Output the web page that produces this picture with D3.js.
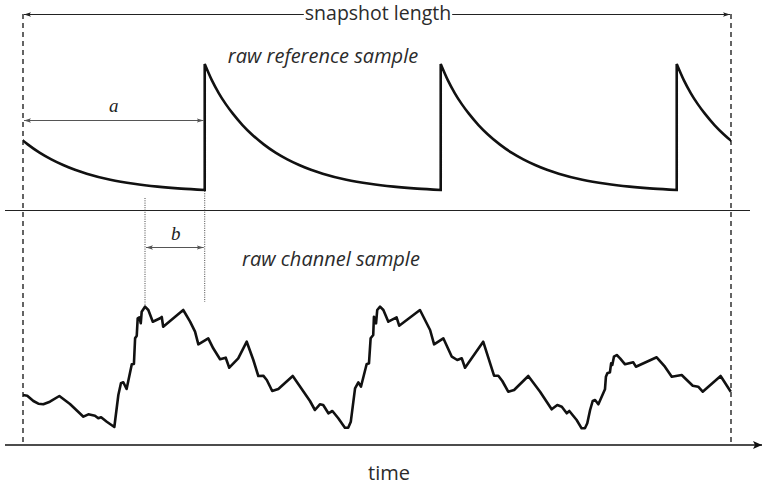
<!DOCTYPE html>
<html>
<head>
<meta charset="utf-8">
<script src="https://cdn.jsdelivr.net/npm/d3@7"></script>
<style>
  html, body { margin: 0; padding: 0; background: #fff; }
  svg { display: block; }
  .lbl { font-family: "Open Sans", sans-serif; fill: #2b2b2b; }
  .math { font-family: "Liberation Serif", "DejaVu Serif", serif; font-style: italic; fill: #222; }
</style>
</head>
<body>
<svg id="chart" width="763" height="487"></svg>
<script>
// Snapshot covers three reference periods, time in arbitrary units 0..300
const snapshot = [0, 300];

// Times at which the reference sample resets to its peak
const jumpTimes = [-23, 77, 177, 277];

// Shape of one reference decay: [time since reset, level]
const refDecay = [
  [0, 1.0], [3, 0.875], [6, 0.773], [9, 0.687], [12, 0.613], [16, 0.527],
  [20, 0.454], [25, 0.377], [30, 0.313], [35, 0.261], [40, 0.217], [45, 0.18],
  [50, 0.15], [60, 0.103], [70, 0.0714], [80, 0.0493], [90, 0.034], [100, 0.0235]
];

// Raw channel sample: [time, level]
const channelTime = [
  0, 1.8, 4.4, 6.5, 8.6, 11.4, 15.4, 19.9, 25.6, 27.7, 30.5, 31.9, 33.1, 35.5, 38.7,
  40.4, 41.5, 42.5, 43.9, 46.1, 47.0, 47.5, 48.2, 48.6, 49.3, 49.9, 50.3, 51.7, 53.1,
  55.0, 58.1, 58.8, 59.4, 67.9, 70.8, 72.9, 74.3, 78.5, 80.6, 83.5, 85.9, 87.4, 91.2,
  94.8, 97.6, 99.7, 101.8, 103.3, 105.6, 108.2, 114.3, 118.1, 121.6, 123.7, 125.8,
  127.2, 129.4, 131.1, 133.6, 136.4, 137.8, 138.9, 140.7, 142.1, 143.2, 145.6, 146.6,
  147.3, 148.4, 148.7, 149.6, 150.1, 151.3, 152.7, 154.8, 158.3, 159.4, 168.2, 172.5,
  174.2, 178.1, 181.7, 184.0, 185.9, 187.3, 195.0, 199.6, 201.4, 203.1, 205.6, 208.1,
  214.1, 219.1, 224.0, 226.4, 228.3, 230.4, 231.5, 234.6, 236.7, 238.1, 239.1, 240.3,
  241.4, 242.4, 243.8, 246.6, 247.0, 247.6, 248.7, 249.2, 249.7, 250.4, 251.6, 253.0,
  255.1, 258.6, 259.7, 268.5, 272.0, 274.9, 279.1, 283.8, 286.1, 288.0, 295.6, 299.9
];
const channelLevel = [
  37, 36.3, 31, 28.3, 27.7, 30.3, 36, 28, 15.3, 17.7, 16.3, 13.7, 14.7, 10.3, 5,
  37, 48.7, 49.7, 43, 67.7, 68, 93.7, 96.3, 113.7, 114.7, 108.7, 120.3, 125.3, 122,
  110.3, 113.7, 115, 105.3, 122, 110.3, 100.3, 87.7, 93.7, 83.7, 72.7, 74.3, 64.3, 73.7,
  90.3, 72, 56, 56.3, 52, 41, 43, 56, 43, 31, 22, 27.7,
  27, 18.7, 21, 13.7, 4.3, 4.3, 10.3, 43.7, 49.7, 45.3, 67.7, 68.7,
  93.7, 97, 115.3, 108.7, 122, 125.3, 122, 110.3, 114.7, 106.3, 122, 102,
  87.7, 93.7, 75.3, 72, 73.7, 64.3, 90.3, 56.3, 56.3, 51, 40.3, 42,
  56, 40.3, 22.7, 27, 25.3, 18.7, 21, 12, 3.7, 3.7, 8.7, 22,
  31, 32, 27.7, 42.7, 55.3, 58.7, 59.7, 68.7, 67, 75.3, 77, 73.7,
  67.7, 69.7, 65.3, 74.7, 65.3, 55.3, 57, 46.3, 45.3, 40.3, 56, 40.3
];

const labels = {
  length: "snapshot length",
  reference: "raw reference sample",
  channel: "raw channel sample",
  axis: "time",
  lagA: "a",
  lagB: "b"
};

const channel = channelTime.map((t, i) => [t, channelLevel[i]]);

const svg = d3.select("#chart");

const x = d3.scaleLinear().domain(snapshot).range([23, 731]);
const yRef = d3.scaleLinear().domain([0, 1]).range([193, 64]);
const yCh = d3.scaleLinear().domain([0, 130]).range([432, 302]);

// arrowhead markers
const defs = svg.append("defs");
function marker(id, color, len, half, notch) {
  defs.append("marker")
    .attr("id", id)
    .attr("viewBox", `0 ${-half} ${len} ${half * 2}`)
    .attr("refX", len).attr("refY", 0)
    .attr("markerUnits", "userSpaceOnUse")
    .attr("markerWidth", len).attr("markerHeight", half * 2)
    .attr("orient", "auto-start-reverse")
    .append("path")
    .attr("d", `M0,${-half}L${len},0L0,${half}L${notch},0Z`)
    .attr("fill", color);
}
marker("arrDark", "#222", 7, 2.2, 1.5);
marker("arrGray", "#555", 7, 2.2, 1.5);
marker("arrAxis", "#111", 9, 4, 2);

defs.append("clipPath").attr("id", "snapClip")
  .append("rect")
  .attr("x", x(snapshot[0])).attr("y", 0)
  .attr("width", x(snapshot[1]) - x(snapshot[0])).attr("height", 487);

// panel divider
svg.append("line")
  .attr("x1", 5).attr("x2", 750).attr("y1", 210.5).attr("y2", 210.5)
  .attr("stroke", "#222").attr("stroke-width", 1.2);

// time axis with arrow
svg.append("line")
  .attr("x1", 5).attr("x2", 762).attr("y1", 445).attr("y2", 445)
  .attr("stroke", "#111").attr("stroke-width", 1.5)
  .attr("marker-end", "url(#arrAxis)");

// snapshot boundaries
snapshot.forEach(t => {
  svg.append("line")
    .attr("x1", x(t)).attr("x2", x(t)).attr("y1", 14).attr("y2", 445)
    .attr("stroke", "#111").attr("stroke-width", 1.3)
    .attr("stroke-dasharray", "5,4");
});

// snapshot length dimension line, broken around its label
const lenText = svg.append("text")
  .attr("class", "lbl")
  .attr("x", (x(snapshot[0]) + x(snapshot[1])) / 2 + 1)
  .attr("y", 20)
  .attr("text-anchor", "middle")
  .style("font-size", "19.5px")
  .text(labels.length);
const lb = lenText.node().getBBox();
svg.append("line")
  .attr("x1", lb.x - 1).attr("x2", x(snapshot[0]) + 1).attr("y1", 14.5).attr("y2", 14.5)
  .attr("stroke", "#222").attr("stroke-width", 1)
  .attr("marker-end", "url(#arrDark)");
svg.append("line")
  .attr("x1", lb.x + lb.width + 1).attr("x2", x(snapshot[1]) - 1).attr("y1", 14.5).attr("y2", 14.5)
  .attr("stroke", "#222").attr("stroke-width", 1)
  .attr("marker-end", "url(#arrDark)");

// reference sawtooth: one decay per reset, joined by vertical jumps
const refLine = d3.line()
  .x(d => x(d[0])).y(d => yRef(d[1]))
  .curve(d3.curveMonotoneX);
let refPath = "";
jumpTimes.forEach((j, i) => {
  const seg = refDecay.map(([dt, v]) => [j + dt, v]);
  let s = refLine(seg);
  if (i > 0) s = "L" + s.slice(1);
  refPath += s;
});
svg.append("path")
  .attr("d", refPath)
  .attr("clip-path", "url(#snapClip)")
  .attr("fill", "none")
  .attr("stroke", "#111").attr("stroke-width", 2.6)
  .attr("stroke-linejoin", "miter");

// channel trace
svg.append("path")
  .datum(channel)
  .attr("d", d3.line().x(d => x(d[0])).y(d => yCh(d[1])))
  .attr("fill", "none")
  .attr("stroke", "#111").attr("stroke-width", 2.6)
  .attr("stroke-linejoin", "round");

// lag a: snapshot start to first reset
const firstJump = jumpTimes[1];
svg.append("line")
  .attr("x1", x(snapshot[0]) + 1).attr("x2", x(firstJump) - 1).attr("y1", 120.5).attr("y2", 120.5)
  .attr("stroke", "#555").attr("stroke-width", 1)
  .attr("marker-start", "url(#arrGray)")
  .attr("marker-end", "url(#arrGray)");
svg.append("text")
  .attr("class", "math")
  .attr("x", (x(snapshot[0]) + x(firstJump)) / 2)
  .attr("y", 112)
  .attr("text-anchor", "middle")
  .style("font-size", "19px")
  .text(labels.lagA);

// lag b: channel peak to first reset
const peak = d3.greatest(channel.filter(d => d[0] < firstJump), d => d[1]);
const endLevel = refDecay[refDecay.length - 1][1];
svg.append("line")
  .attr("x1", x(peak[0])).attr("x2", x(peak[0]))
  .attr("y1", 198).attr("y2", yCh(peak[1]) - 2)
  .attr("stroke", "#444").attr("stroke-width", 1)
  .attr("stroke-dasharray", "1,1.3");
svg.append("line")
  .attr("x1", x(firstJump)).attr("x2", x(firstJump))
  .attr("y1", yRef(endLevel) + 1).attr("y2", 302)
  .attr("stroke", "#444").attr("stroke-width", 1)
  .attr("stroke-dasharray", "1,1.3");
svg.append("line")
  .attr("x1", x(peak[0]) + 1).attr("x2", x(firstJump) - 1).attr("y1", 247.5).attr("y2", 247.5)
  .attr("stroke", "#555").attr("stroke-width", 1)
  .attr("marker-start", "url(#arrGray)")
  .attr("marker-end", "url(#arrGray)");
svg.append("text")
  .attr("class", "math")
  .attr("x", (x(peak[0]) + x(firstJump)) / 2 + 1)
  .attr("y", 240)
  .attr("text-anchor", "middle")
  .style("font-size", "19px")
  .text(labels.lagB);

// panel titles
svg.append("text")
  .attr("class", "lbl")
  .attr("x", 323).attr("y", 63)
  .attr("text-anchor", "middle")
  .style("font-size", "20px").style("font-style", "italic")
  .text(labels.reference);
svg.append("text")
  .attr("class", "lbl")
  .attr("x", 331).attr("y", 266)
  .attr("text-anchor", "middle")
  .style("font-size", "20px").style("font-style", "italic")
  .text(labels.channel);

// axis title
svg.append("text")
  .attr("class", "lbl")
  .attr("x", 389).attr("y", 480)
  .attr("text-anchor", "middle")
  .style("font-size", "20px")
  .text(labels.axis);
</script>
</body>
</html>
